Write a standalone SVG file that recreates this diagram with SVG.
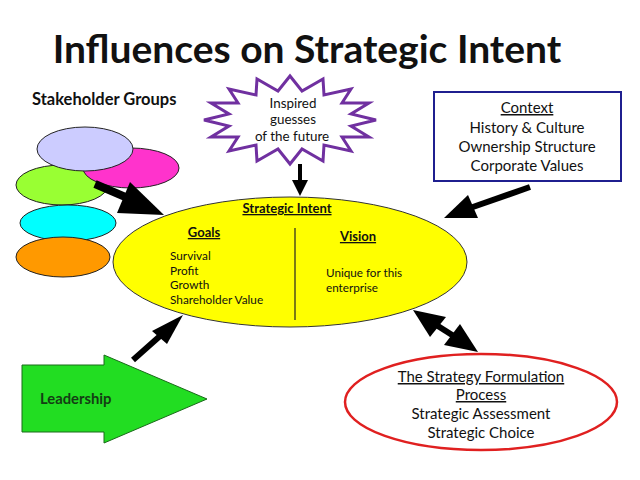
<svg xmlns="http://www.w3.org/2000/svg" width="640" height="480" viewBox="0 0 640 480">
<style>
text{font-family:Lato,"Open Sans","Liberation Sans",sans-serif;fill:#111}
.b{font-weight:bold}
.u{text-decoration:underline}
.blob{stroke:#222;stroke-width:1}
.arr{fill:#000;stroke:none}
.shaft{stroke:#000;fill:none}
</style>
<rect width="640" height="480" fill="#fff"/>
<text x="307" y="63" text-anchor="middle" class="b" font-size="39">Influences on Strategic Intent</text>
<text x="32" y="105" class="b" font-size="16.5">Stakeholder Groups</text>

<g id="stakeholders">
<ellipse cx="62" cy="185" rx="46" ry="20" fill="#99FF33" class="blob"/>
<ellipse cx="131" cy="168" rx="48" ry="20" fill="#FF33CC" class="blob"/>
<ellipse cx="85" cy="149" rx="48" ry="22" fill="#CCCCFF" class="blob"/>
<ellipse cx="68" cy="223" rx="48" ry="18" fill="#00FFFF" class="blob"/>
<ellipse cx="63" cy="257" rx="47" ry="20" fill="#FF9900" class="blob"/>
</g>

<g id="inspired">
<polygon points="376,120 351,126 369,137 342,137 351,151 324,145 323,161 302,149 290,164 278,149 257,161 256,145 229,151 238,137 211,137 229,126 204,120 229,114 211,103 238,103 229,89 256,95 257,79 278,91 290,76 302,91 323,79 324,95 351,89 342,103 369,103 351,114" fill="#fff" stroke="#7030A0" stroke-width="3" stroke-linejoin="miter"/>
<text x="293" y="108" text-anchor="middle" font-size="13.4">Inspired</text>
<text x="293" y="124" text-anchor="middle" font-size="13.4">guesses</text>
<text x="292" y="141" text-anchor="middle" font-size="13.4">of the future</text>
</g>

<g id="context">
<rect x="434" y="92" width="187" height="89" fill="#fff" stroke="#1F1F8F" stroke-width="2"/>
<text x="527" y="113" text-anchor="middle" font-size="15" class="u">Context</text>
<text x="527" y="133" text-anchor="middle" font-size="15">History &amp; Culture</text>
<text x="527" y="152" text-anchor="middle" font-size="15">Ownership Structure</text>
<text x="527" y="171" text-anchor="middle" font-size="15">Corporate Values</text>
</g>

<g id="strategic-intent">
<ellipse cx="290" cy="262" rx="177" ry="65" fill="#FFFF00" stroke="#333" stroke-width="1"/>
<line x1="295" y1="228" x2="295" y2="320" stroke="#222" stroke-width="1.2"/>
<text x="287" y="213" text-anchor="middle" font-size="13" class="b u">Strategic Intent</text>
<text x="204" y="237" text-anchor="middle" font-size="13" class="b u">Goals</text>
<text x="358" y="241" text-anchor="middle" font-size="13" class="b u">Vision</text>
<text x="170" y="260" font-size="11.8">Survival</text>
<text x="170" y="275" font-size="11.8">Profit</text>
<text x="170" y="289" font-size="11.8">Growth</text>
<text x="170" y="304" font-size="11.8">Shareholder Value</text>
<text x="326" y="277" font-size="11.7">Unique for this</text>
<text x="326" y="292" font-size="11.7">enterprise</text>
</g>

<g id="leadership">
<polygon points="22,365 104,365 104,355 207,399 104,443 104,432 22,432" fill="#22DD22" stroke="#1a6a1a" stroke-width="1"/>
<text x="40" y="404" class="b" font-size="14.8" style="fill:#143d14">Leadership</text>
</g>

<g id="formulation">
<ellipse cx="481" cy="402" rx="136" ry="48" fill="#fff" stroke="#E02020" stroke-width="2.5"/>
<text x="481" y="382" text-anchor="middle" font-size="15" class="u">The Strategy Formulation</text>
<text x="481" y="400" text-anchor="middle" font-size="15" class="u">Process</text>
<text x="481" y="419" text-anchor="middle" font-size="15">Strategic Assessment</text>
<text x="481" y="438" text-anchor="middle" font-size="15">Strategic Choice</text>
</g>

<g id="connectors">
<line class="shaft" x1="95" y1="184" x2="130" y2="199" stroke-width="8"/>
<polygon class="arr" points="130,182 164,215 117,213"/>
<line class="shaft" x1="300" y1="164" x2="300" y2="182" stroke-width="4"/>
<polygon class="arr" points="292,180 308,180 300,196"/>
<line class="shaft" x1="530" y1="187" x2="470" y2="208" stroke-width="6"/>
<polygon class="arr" points="468,195 444,218 478,218"/>
<line class="shaft" x1="133" y1="360" x2="160" y2="336" stroke-width="6"/>
<polygon class="arr" points="152,331 183,315 167,344"/>
<line class="shaft" x1="430" y1="321" x2="460" y2="340" stroke-width="6"/>
<polygon class="arr" points="413,310 446,317 430,337"/>
<polygon class="arr" points="478,352 444,345 460,324"/>
</g>
</svg>
